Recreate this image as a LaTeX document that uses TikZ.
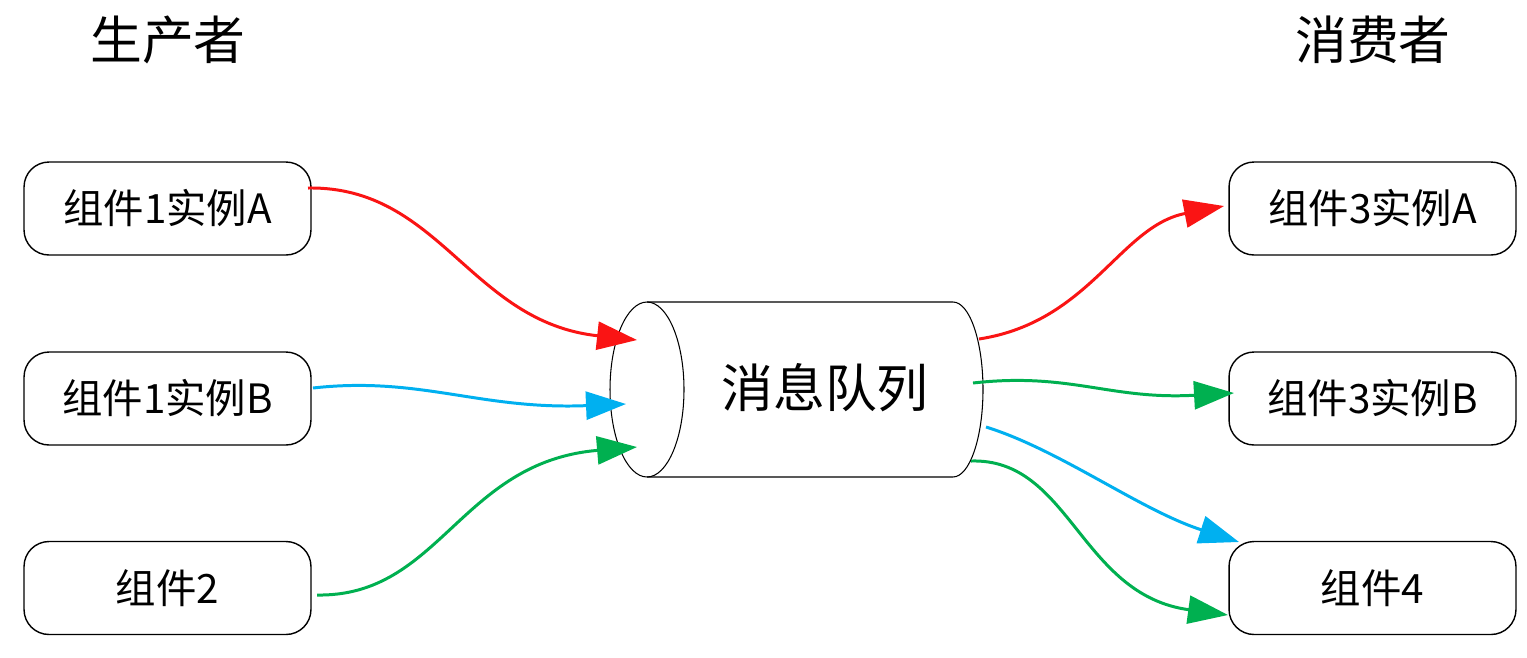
\documentclass[tikz,border=0pt]{standalone}
\usepackage{fontspec}
\newfontfamily\cjk{Noto Sans CJK SC}
\usetikzlibrary{arrows.meta}
\definecolor{cred}{RGB}{250,20,20}
\definecolor{cblue}{RGB}{0,176,240}
\definecolor{cgreen}{RGB}{0,176,80}
\tikzset{
  box/.style={draw=black, line width=0.8pt, rounded corners=0.5cm, minimum width=5.74cm, minimum height=1.86cm, inner sep=0pt, font=\cjk\fontsize{23}{27}\selectfont},
  title/.style={font=\cjk\fontsize{29.5}{33}\selectfont, inner sep=0pt},
  conn/.style={line width=1.7pt, -{Triangle[length=0.8cm, width=0.56cm]}},
}
\begin{document}
\begin{tikzpicture}[x=0.02cm, y=-0.02cm]
\useasboundingbox[fill=white] (0,0) rectangle (1527,657);
% titles
\node[title] (tp) at (168,40) {生产者};
\node[title] (tc) at (1373,40) {消费者};
% boxes
\node[box] (p1) at (167.5,208.5) {组件1实例A};
\node[box] (p2) at (167.5,398.5) {组件1实例B};
\node[box] (p3) at (167.5,588) {组件2};
\node[box] (c1) at (1372.5,208.5) {组件3实例A};
\node[box] (c2) at (1372.5,398.5) {组件3实例B};
\node[box] (c3) at (1372.5,588) {组件4};
% cylinder
\draw[line width=0.6pt] (647,302) -- (953,302) arc[start angle=90, end angle=-90, x radius=0.6cm, y radius=1.75cm] -- (647,477);
\draw[line width=0.6pt] (647,389.5) ellipse[x radius=0.74cm, y radius=1.75cm];
\node[title] (mq) at (825,388) {消息队列};
% connector endpoints
\coordinate (s1) at (308,188);
\coordinate (s2) at (313,388);
\coordinate (s3) at (317,595);
\coordinate (e1) at (637,340);
\coordinate (e2) at (626,404);
\coordinate (e3) at (637,447);
\coordinate (o1) at (979,339);
\coordinate (o2) at (973,383);
\coordinate (o3) at (986,427);
\coordinate (o4) at (971,461);
\coordinate (t1) at (1224,206);
\coordinate (t2) at (1234,393);
\coordinate (t3) at (1239,542);
\coordinate (t4) at (1228,615);
% left connectors
\draw[conn, cred] (s1) .. controls (440,186) and (470,322) .. (e1);
\draw[conn, cblue] (s2) .. controls (420,376) and (480,410) .. (e2);
\draw[conn, cgreen] (s3) .. controls (440,597) and (460,462) .. (e3);
% right connectors
\draw[conn, cred] (o1) .. controls (1090,322) and (1120,226) .. (t1);
\draw[conn, cgreen] (o2) .. controls (1070,372) and (1110,400) .. (t2);
\draw[conn, cblue] (o3) .. controls (1060,450) and (1140,510) .. (t3);
\draw[conn, cgreen] (o4) .. controls (1070,458) and (1080,595) .. (t4);
\end{tikzpicture}
\end{document}
